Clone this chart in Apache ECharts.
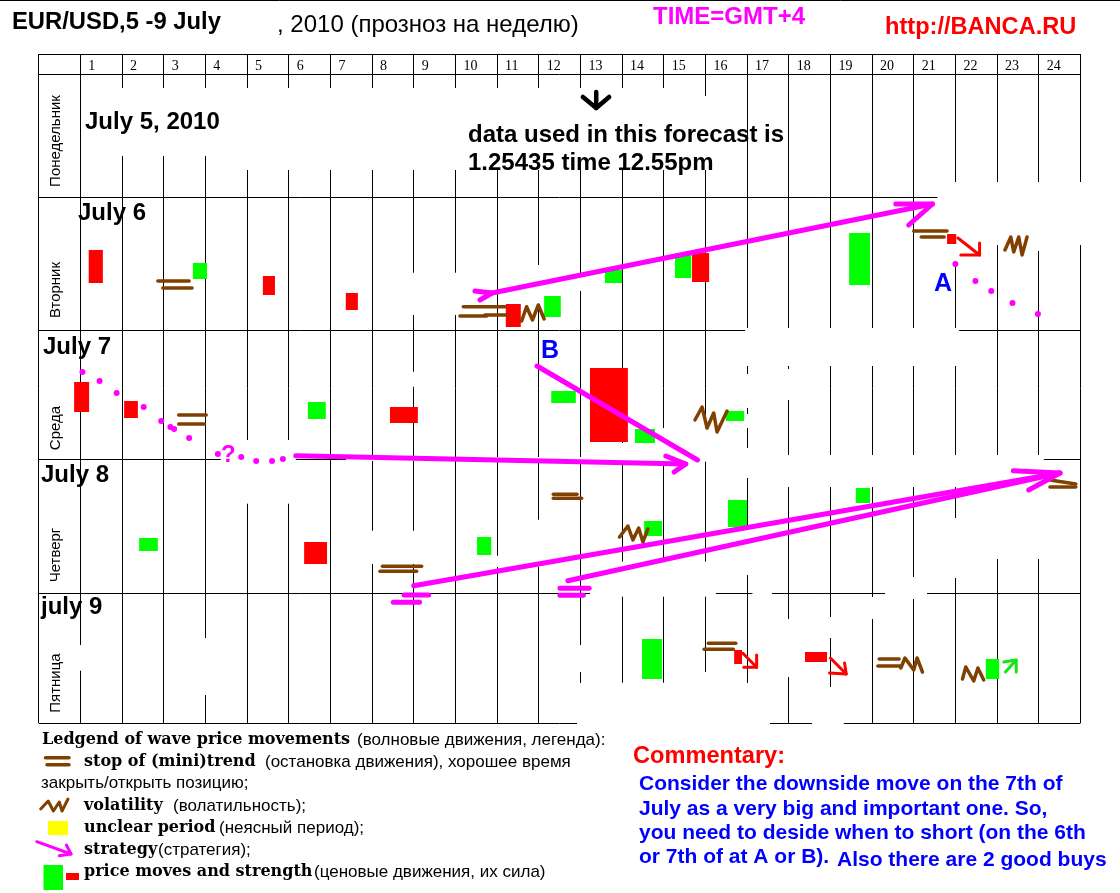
<!DOCTYPE html>
<html>
<head>
<meta charset="utf-8">
<title>EUR/USD</title>
<script src="https://cdn.jsdelivr.net/npm/echarts@6/dist/echarts.min.js"></script>
<style>
html, body { margin: 0; padding: 0; background: #fff; }
#d1 { width: 1120px; height: 893px; }
</style>
</head>
<body>
<div id="d1"></div>
<script>
// x = hour of the day (0-24, -1 is the day name column), y = level on the sheet

var dayNames = ['Понедельник', 'Вторник', 'Среда', 'Четверг', 'Пятница'];
var dayTitles = ['July 5, 2010', 'July 6', 'July 7', 'July 8', 'july 9'];
var rowLines = [54, 74, 197, 330, 459, 593, 723];

// [hour from, hour to, top, bottom]
var redBars = [
    [0.20, 0.54, 250, 283], [4.38, 4.67, 276, 295], [6.37, 6.66, 293, 310],
    [10.21, 10.57, 304, 327], [14.68, 15.09, 253, 282], [20.80, 21.02, 234, 244],
    [-0.15, 0.21, 382, 412], [1.05, 1.38, 401, 418], [7.43, 8.10, 407, 423],
    [12.23, 13.14, 368, 442], [5.37, 5.92, 542, 564], [15.69, 15.88, 650, 664],
    [17.39, 17.92, 652, 662]
];
var greenBars = [
    [2.70, 3.04, 263, 279], [11.13, 11.53, 296, 317], [12.59, 13.00, 270, 283],
    [14.27, 14.66, 253, 278], [18.45, 18.95, 233, 285], [5.46, 5.89, 402, 419],
    [11.30, 11.89, 391, 403], [13.31, 13.79, 429, 443], [15.49, 15.93, 411, 421],
    [1.41, 1.86, 538, 551], [9.52, 9.86, 537, 555], [13.53, 13.96, 521, 536],
    [15.54, 16.00, 500, 527], [18.61, 18.95, 488, 503], [13.48, 13.96, 639, 679],
    [21.73, 22.05, 659, 679]
];

// strategy arrows
var strategyLines = [
    [[9.88, 293], [20.45, 204]],
    [[9.47, 291], [9.88, 293], [9.59, 300]],
    [[19.57, 204], [20.45, 204], [19.88, 225]],
    [[5.17, 455.7], [14.53, 464]],
    [[14.05, 456], [14.53, 464], [14.25, 472]],
    [[8.00, 585.7], [23.51, 473]],
    [[11.70, 580.7], [23.51, 473]],
    [[22.39, 470.7], [23.51, 473], [22.76, 490]],
    [[10.96, 366], [14.81, 460]],
    [[7.77, 595], [8.36, 595]],
    [[7.51, 602.3], [8.14, 602.3]],
    [[11.51, 588.3], [12.21, 588.3]],
    [[11.51, 595.3], [12.07, 595.3]]
];
var forecastDots = [
    [21.00, 264], [21.48, 281], [21.86, 291], [22.37, 303], [22.98, 314],
    [0.05, 372], [0.46, 381], [0.87, 393], [1.52, 407], [1.94, 421], [2.16, 427],
    [2.25, 429], [2.61, 438], [3.30, 454], [3.86, 457], [4.22, 461], [4.60, 461], [4.86, 459]
];

var stopMarks = [
    [[1.86, 281], [2.61, 281]], [[1.98, 288], [2.68, 288]],
    [[9.19, 306.7], [10.19, 306.7]], [[9.11, 316], [9.75, 316]], [[9.71, 315], [10.23, 315]],
    [[20.00, 231], [20.80, 231]], [[20.18, 237], [20.73, 237]],
    [[2.36, 415], [3.02, 415]], [[2.36, 424], [2.97, 424]],
    [[11.35, 494.3], [11.92, 494.3]], [[11.35, 498.3], [12.03, 498.3]],
    [[7.25, 566.3], [8.19, 566.3]], [[7.19, 571.3], [8.07, 571.3]],
    [[23.27, 480], [23.89, 484]], [[23.27, 487], [23.89, 487]],
    [[15.07, 643.3], [15.73, 643.3]], [[14.97, 649.3], [15.67, 649.3]],
    [[19.17, 659], [19.65, 659]], [[19.14, 666], [19.69, 666]]
];
var volatilityMarks = [
    [[10.59, 321], [10.71, 306.7], [10.85, 320], [10.99, 305], [11.13, 319]],
    [[22.19, 250], [22.33, 237], [22.40, 252], [22.52, 237], [22.60, 255], [22.72, 237]],
    [[14.75, 420], [14.92, 407], [15.04, 428], [15.20, 413], [15.28, 432], [15.52, 411]],
    [[12.94, 537], [13.14, 526], [13.26, 540], [13.40, 528], [13.50, 542], [13.62, 529]],
    [[19.69, 668], [19.79, 658], [20.00, 670], [20.08, 658], [20.21, 672]],
    [[21.17, 679], [21.25, 667], [21.44, 681], [21.54, 668], [21.68, 680]]
];
var redArrows = [
    [[21.06, 238], [21.58, 255]], [[21.58, 243], [21.58, 255], [21.13, 255]],
    [[15.90, 653.3], [16.23, 667.3]], [[16.23, 655], [16.23, 667.3], [15.92, 667.3]],
    [[18.00, 658], [18.38, 674]], [[18.34, 663], [18.38, 674], [17.98, 673]]
];
var greenArrows = [
    [[22.20, 672], [22.46, 660]], [[22.16, 662], [22.46, 660], [22.46, 672]]
];
var startArrow = [
    [[12.38, 92], [12.38, 108]], [[12.06, 97], [12.38, 108], [12.69, 97]]
];

// parts of the sheet that were painted over: [hour, from, to]
var erasedColumns = [
    [1, 88, 156], [2, 88, 156], [3, 88, 156], [4, 88, 170], [5, 88, 170], [6, 88, 170],
    [7, 88, 170], [8, 88, 170], [9, 88, 170], [10, 88, 170], [11, 88, 170], [12, 88, 170],
    [13, 88, 170], [14, 88, 170], [15, 96, 170],
    [21, 182, 262], [22, 182, 245], [23, 182, 251], [24, 182, 245],
    [8, 272.7, 315], [9, 272.7, 315], [11, 265, 310], [12, 275, 291],
    [16, 328, 366], [16, 374, 408], [16, 414, 428], [16, 448, 478], [16, 530, 575], [16, 683, 723],
    [17, 328, 366], [17, 369, 400], [17, 455, 487], [17, 619, 677],
    [18, 328, 366], [18, 455, 487], [18, 617, 638], [18, 687, 723],
    [19, 328, 366], [19, 455, 487], [19, 597, 619],
    [20, 328, 366], [20, 455, 487], [20, 577, 599],
    [21, 328, 366], [21, 455, 487], [21, 518, 578],
    [22, 455, 559], [23, 455, 559],
    [8, 371.7, 386.7], [15, 428, 461.7], [15, 561.7, 596.7], [14, 428, 465], [14, 560, 596.7],
    [13, 443, 465], [13, 561.7, 596.7],
    [12, 645, 672], [12, 683, 723], [13, 682.7, 723], [14, 682.7, 723], [15, 672, 723],
    [7, 530.7, 564], [8, 530.7, 564], [10, 555.7, 567], [11, 519.7, 566.7],
    [4, 440, 503.7], [5, 440, 503.7], [3, 638, 695], [0, 645, 670.7]
];
// [hour from, hour to, level]
var erasedRows = [
    [20.57, 24.1, 197], [15.97, 21.09, 330], [3.37, 5.17, 459], [6.37, 23.12, 459],
    [12.23, 15.25, 593], [16.13, 16.60, 593], [19.31, 20.32, 593],
    [11.92, 16.55, 723], [17.56, 18.32, 723]
];

var mainTitle = 'EUR/USD,5 -9 July';
var subTitle = ', 2010 (прозноз на неделю)';
var timeNote = 'TIME=GMT+4';
var siteNote = 'http://BANCA.RU';
var dataNote = ['data used in this forecast is', '1.25435 time 12.55pm'];
var legendBold = ['Ledgend of wave price movements', 'stop of (mini)trend', 'volatility', 'unclear period', 'strategy', 'price moves and strength'];
var legendRus = ['(волновые движения, легенда):', '(остановка движения), хорошее время', '(волатильность);', '(неясный период);', '(стратегия);', '(ценовые движения, их сила)'];
var legendWrap = 'закрыть/открыть позицию;';
var commentTitle = 'Commentary:';
var commentLines = [
    'Consider the downside move on the 7th of',
    'July as a very big and important one. So,',
    'you need to deside when to short (on the 6th',
    'or 7th of at A or B).',
    'Also there are 2 good buys'
];

var myChart1 = echarts.init(document.getElementById('d1'));

function rectSeries(list, color) {
    return {
        type: 'custom',
        clip: false,
        z: 5,
        data: list,
        renderItem: function (params, api) {
            var p0 = api.coord([api.value(0), api.value(2)]);
            var p1 = api.coord([api.value(1), api.value(3)]);
            return {
                type: 'rect',
                shape: { x: p0[0], y: p0[1], width: p1[0] - p0[0], height: p1[1] - p0[1] },
                style: { fill: color }
            };
        }
    };
}

function strokeSeries(list, color, width, z) {
    return {
        type: 'custom',
        clip: false,
        z: z || 6,
        data: list.map(function (d, i) { return [i]; }),
        renderItem: function (params, api) {
            var pts = list[params.dataIndex].map(function (p) { return api.coord(p); });
            return {
                type: 'polyline',
                shape: { points: pts },
                style: { fill: null, stroke: color, lineWidth: width, lineCap: 'round', lineJoin: 'round' }
            };
        }
    };
}

function txt(x, y, str, font, color, rotation) {
    return {
        type: 'text',
        x: x,
        y: y,
        rotation: rotation || 0,
        z: 20,
        style: { text: str, font: font, fill: color || '#000', align: rotation ? 'center' : 'left', verticalAlign: 'middle' }
    };
}

function stroke(points, color, width) {
    return {
        type: 'polyline',
        z: 20,
        shape: { points: points },
        style: { fill: null, stroke: color, lineWidth: width, lineCap: 'round', lineJoin: 'round' }
    };
}

function box(x, y, w, h, color) {
    return { type: 'rect', z: 20, shape: { x: x, y: y, width: w, height: h }, style: { fill: color } };
}

var sans = '"Liberation Sans"';
var titleFont = 'bold 24px ' + sans;
var rusFont = '17px ' + sans;
var legendFont = 'bold 16px "DejaVu Serif"';
var blueFont = 'bold 21px ' + sans;
var dayNameY = [141, 290, 428, 555, 683];

var labels = [
    stroke([[0, 0.5], [1120, 0.5]], '#000', 1),
    txt(12, 22, mainTitle, 'bold 23.8px ' + sans),
    txt(277, 25, subTitle, '24px ' + sans),
    txt(653, 17, timeNote, 'bold 24px ' + sans, '#ff00ff'),
    txt(885, 27, siteNote, 'bold 23.6px ' + sans, '#ff0000'),
    txt(85, 122, dayTitles[0], titleFont),
    txt(78, 213, dayTitles[1], titleFont),
    txt(43, 347, dayTitles[2], titleFont),
    txt(41, 475, dayTitles[3], titleFont),
    txt(41, 607, dayTitles[4], titleFont),
    txt(468, 135, dataNote[0], titleFont),
    txt(468, 163, dataNote[1], titleFont),
    txt(934, 284, 'A', 'bold 25px ' + sans, '#0000ff'),
    txt(541, 351, 'B', 'bold 25px ' + sans, '#0000ff'),
    txt(221, 455, '?', 'bold 24px ' + sans, '#ff00ff'),

    txt(42, 740, legendBold[0], legendFont),
    txt(357, 740, legendRus[0], rusFont),
    txt(84, 762, legendBold[1], legendFont),
    txt(265, 762, legendRus[1], rusFont),
    txt(41, 783, legendWrap, rusFont),
    txt(84, 806, legendBold[2], legendFont),
    txt(173, 806, legendRus[2], rusFont),
    txt(84, 828, legendBold[3], legendFont),
    txt(219, 828, legendRus[3], rusFont),
    txt(84, 850, legendBold[4], legendFont),
    txt(158, 850, legendRus[4], rusFont),
    txt(84, 872, legendBold[5], legendFont),
    txt(314, 872, legendRus[5], rusFont),

    stroke([[45.5, 757.7], [69, 757.7]], '#804000', 3.5),
    stroke([[47, 764.7], [69, 764.7]], '#804000', 3.5),
    stroke([[40.7, 809], [48.2, 801], [53.4, 811], [59.3, 802], [62, 811], [68, 799]], '#804000', 3),
    box(48, 821, 20, 14, '#ffff00'),
    stroke([[36.8, 841.7], [71, 854]], '#ff00ff', 3),
    stroke([[66.4, 845], [71, 854], [59.3, 855.7]], '#ff00ff', 3),
    box(43.5, 865, 19.5, 25, '#00ff00'),
    box(66, 873, 13, 7, '#ff0000'),

    txt(633, 756, commentTitle, 'bold 23.6px ' + sans, '#ff0000'),
    txt(639, 784, commentLines[0], blueFont, '#0000ff'),
    txt(639, 809, commentLines[1], blueFont, '#0000ff'),
    txt(639, 833, commentLines[2], blueFont, '#0000ff'),
    txt(639, 857, commentLines[3], blueFont, '#0000ff'),
    txt(837, 860, commentLines[4], blueFont, '#0000ff')
];
dayNames.forEach(function (name, i) {
    labels.push(txt(56, dayNameY[i], name, '15px ' + sans, '#000', Math.PI / 2));
});

var option1 = {
    animation: false,
    backgroundColor: '#fff',
    grid: { left: 38.7, top: 54, width: 1041.7, height: 669 },
    xAxis: {
        type: 'value',
        position: 'top',
        min: -1,
        max: 24,
        interval: 1,
        axisLine: { show: false },
        axisTick: { show: false },
        axisLabel: {
            inside: true,
            margin: 5,
            align: 'left',
            verticalAlign: 'top',
            padding: [0, 0, 0, 8],
            color: '#000',
            fontFamily: 'Liberation Serif',
            fontSize: 14,
            formatter: function (v) { return v >= 0 && v < 24 ? String(v + 1) : ''; }
        },
        splitLine: { show: true, lineStyle: { color: '#000', width: 1 } }
    },
    yAxis: {
        type: 'value',
        inverse: true,
        min: 54,
        max: 723,
        show: false,
        splitLine: { show: false }
    },
    series: [
        {
            type: 'custom',
            clip: false,
            z: 2,
            data: rowLines.map(function (v) { return [v]; }),
            renderItem: function (params, api) {
                var a = api.coord([-1, api.value(0)]);
                var b = api.coord([24, api.value(0)]);
                return {
                    type: 'line',
                    shape: { x1: a[0], y1: Math.round(a[1]) + 0.5, x2: b[0], y2: Math.round(b[1]) + 0.5 },
                    style: { stroke: '#000', lineWidth: 1 }
                };
            }
        },
        {
            type: 'custom',
            clip: false,
            z: 3,
            data: erasedColumns,
            renderItem: function (params, api) {
                var a = api.coord([api.value(0), api.value(1)]);
                var b = api.coord([api.value(0), api.value(2)]);
                return {
                    type: 'rect',
                    shape: { x: a[0] - 2, y: a[1], width: 4, height: b[1] - a[1] },
                    style: { fill: '#fff' }
                };
            }
        },
        {
            type: 'custom',
            clip: false,
            z: 3,
            data: erasedRows,
            renderItem: function (params, api) {
                var a = api.coord([api.value(0), api.value(2)]);
                var b = api.coord([api.value(1), api.value(2)]);
                return {
                    type: 'rect',
                    shape: { x: a[0], y: a[1] - 2, width: b[0] - a[0], height: 4 },
                    style: { fill: '#fff' }
                };
            }
        },
        rectSeries(redBars, '#ff0000'),
        rectSeries(greenBars, '#00ff00'),
        strokeSeries(stopMarks, '#804000', 3.5),
        strokeSeries(volatilityMarks, '#804000', 3.5),
        strokeSeries(redArrows, '#ff0000', 3),
        strokeSeries(greenArrows, '#14e614', 3),
        strokeSeries(startArrow, '#000', 4.5),
        strokeSeries(strategyLines, '#ff00ff', 5, 7),
        {
            type: 'scatter',
            z: 7,
            clip: false,
            symbolSize: 6,
            itemStyle: { color: '#ff00ff', opacity: 1 },
            data: forecastDots
        }
    ],
    graphic: { elements: labels }
};

myChart1.setOption(option1);
</script>
</body>
</html>
